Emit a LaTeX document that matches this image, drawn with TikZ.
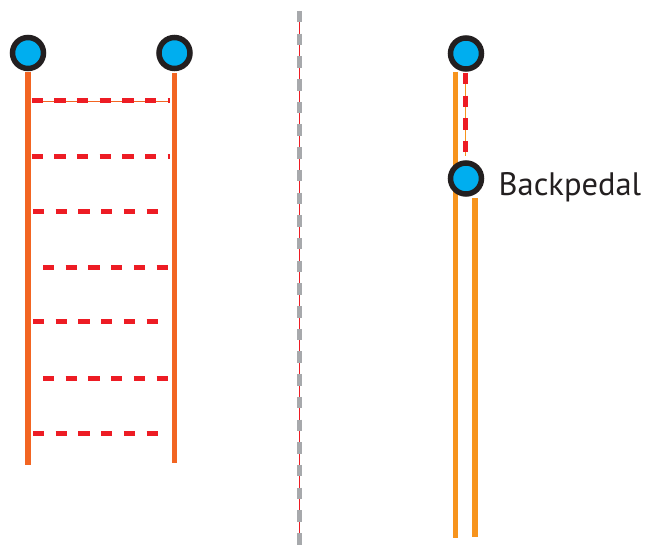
\documentclass[tikz,border=0pt]{standalone}
\usepackage{fontspec}
\setmainfont{PT Sans}
\definecolor{railred}{HTML}{F26522}
\definecolor{railorange}{HTML}{F7941D}
\definecolor{dashred}{HTML}{ED1C24}
\definecolor{dotblue}{HTML}{00AEEF}
\definecolor{ringblack}{HTML}{231F20}
\definecolor{midgray}{HTML}{A7A9AC}
\tikzset{
  dotnode/.style={circle, draw=ringblack, fill=dotblue, line width=5.5pt,
    minimum size=31pt, inner sep=0pt},
  railA/.style={draw=railred, line width=5.5pt},
  railB/.style={draw=railorange, line width=5.5pt},
  rung/.style={draw=dashred, line width=5pt, dash pattern=on 11.3pt off 11.4pt},
  guide/.style={draw=#1, line width=0.9pt},
}
\begin{document}
\begin{tikzpicture}[x=1pt, y=-1pt]
\useasboundingbox (0,0) rectangle (646,545);

% --- ladder on the left ---
\coordinate (la) at (28,72);
\coordinate (lb) at (28,465.5);
\coordinate (ra) at (174.5,73);
\coordinate (rb) at (174.5,463);
\path[railA] (la) -- (lb);
\path[railA] (ra) -- (rb);

% rungs
\coordinate (r1a) at (31.5,101);  \coordinate (r1b) at (170,101);
\coordinate (r2a) at (31.5,157);  \coordinate (r2b) at (170,157);
\coordinate (r3a) at (33,212);    \coordinate (r3b) at (158,212);
\coordinate (r4a) at (43,268);    \coordinate (r4b) at (170,268);
\coordinate (r5a) at (33,322);    \coordinate (r5b) at (158,322);
\coordinate (r6a) at (43,379);    \coordinate (r6b) at (170,379);
\coordinate (r7a) at (33,434);    \coordinate (r7b) at (158,434);
\path[guide=railred] (r1a) -- (r1b);
\foreach \i in {1,...,7} {\path[rung] (r\i a) -- (r\i b);}

\node[dotnode] (tl) at (28,53) {};
\node[dotnode] (tr) at (174.5,53) {};

% --- central divider ---
\coordinate (ma) at (299.5,11);
\coordinate (mb) at (299.5,545);
\path[guide=dashred] (ma) -- (mb);
\path[draw=midgray, line width=5.5pt, dash pattern=on 11.5pt off 11.2pt] (ma) -- (mb);

% --- backpedal on the right ---
\coordinate (pa) at (455.5,72);
\coordinate (pb) at (455.5,538);
\coordinate (qa) at (475,198);
\coordinate (qb) at (475,537);
\path[railB] (pa) -- (pb);
\path[railB] (qa) -- (qb);

\coordinate (da) at (465.3,73);
\coordinate (db) at (465.3,156.5);
\path[guide=railorange] (da) -- (db);
\path[rung] (da) -- (db);

\node[dotnode] (p1) at (466,53.5) {};
\node[dotnode] (p2) at (466,178.5) {};
\node[anchor=base west, inner sep=0pt, font=\fontsize{32.5}{32.5}\selectfont,
  text=ringblack] (lbl) at (498.5,195.5) {Backpedal};
\end{tikzpicture}
\end{document}
